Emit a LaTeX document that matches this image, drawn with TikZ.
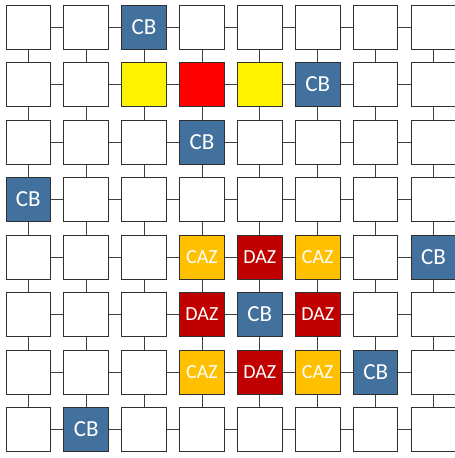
\documentclass[tikz,border=0pt]{standalone}
\usepackage{fontspec}
\setmainfont{Carlito}
\definecolor{cbblue}{HTML}{41719C}
\definecolor{cazor}{HTML}{FFC000}
\definecolor{dazred}{HTML}{C00000}
\definecolor{edge}{HTML}{2F2F2F}
\definecolor{link}{HTML}{404040}
\begin{document}
\begin{tikzpicture}[x=1bp,y=-1bp,
  cell/.style={draw=edge,line width=0.9bp,fill=white,minimum width=44.5bp,minimum height=44bp,inner sep=0pt,outer sep=0pt,text=white},
  cb/.style={cell,fill=cbblue,font=\fontsize{23bp}{23bp}\selectfont},
  caz/.style={cell,fill=cazor,font=\fontsize{20bp}{20bp}\selectfont},
  daz/.style={cell,fill=dazred,font=\fontsize{20bp}{20bp}\selectfont},
  yel/.style={cell,fill=yellow},
  rd/.style={cell,fill=red},
  conn/.style={draw=link,line width=0.9bp}]
\useasboundingbox (0,0) rectangle (455,458);
\clip (0,0) rectangle (455,458);
% default white cells
\foreach \r in {0,...,7}{
  \foreach \c in {0,...,7}{
    \pgfmathsetmacro{\xx}{28.25+57.9*\c}
    \pgfmathsetmacro{\yy}{27+57.5*\r}
    \coordinate (p\r\c) at (\xx,\yy);
  }
}
% connectors
\foreach \r in {0,...,7}{
  \foreach \c [evaluate=\c as \n using int(\c+1)] in {0,...,6}{
    \draw[conn] (p\r\c) -- (p\r\n);
  }
}
\foreach \c in {0,...,7}{
  \foreach \r [evaluate=\r as \n using int(\r+1)] in {0,...,6}{
    \draw[conn] (p\r\c) -- (p\n\c);
  }
}
% cells
\foreach \r in {0,...,7}{
  \foreach \c in {0,...,7}{
    \node[cell] (n\r\c) at (p\r\c) {};
  }
}
\node[cb] (a02) at (p02) {CB};
\node[yel] (a12) at (p12) {};
\node[rd] (a13) at (p13) {};
\node[yel] (a14) at (p14) {};
\node[cb] (a15) at (p15) {CB};
\node[cb] (a23) at (p23) {CB};
\node[cb] (a30) at (p30) {CB};
\node[caz] (a43) at (p43) {CAZ};
\node[daz] (a44) at (p44) {DAZ};
\node[caz] (a45) at (p45) {CAZ};
\node[cb] (a47) at (p47) {CB};
\node[daz] (a53) at (p53) {DAZ};
\node[cb] (a54) at (p54) {CB};
\node[daz] (a55) at (p55) {DAZ};
\node[caz] (a63) at (p63) {CAZ};
\node[daz] (a64) at (p64) {DAZ};
\node[caz] (a65) at (p65) {CAZ};
\node[cb] (a66) at (p66) {CB};
\node[cb] (a71) at (p71) {CB};
\end{tikzpicture}
\end{document}
